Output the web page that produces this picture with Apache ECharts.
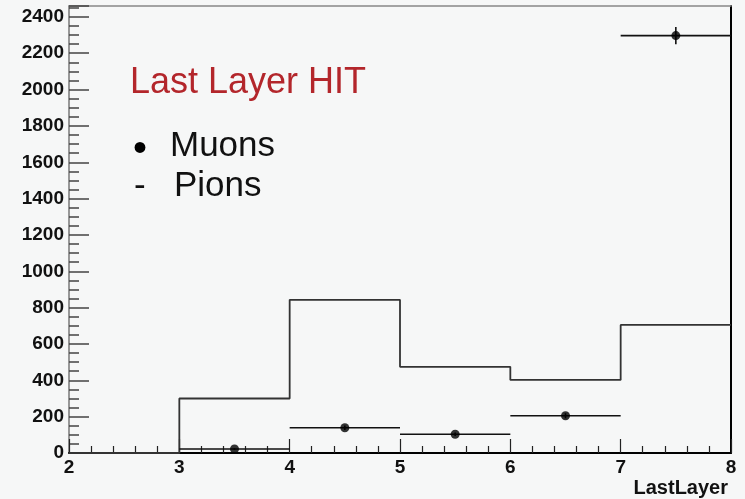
<!DOCTYPE html>
<html>
<head>
<meta charset="utf-8">
<script src="https://cdn.jsdelivr.net/npm/echarts@6/dist/echarts.min.js"></script>
<style>
  html, body { margin: 0; padding: 0; background: #f6f7f7; }
  #chart { width: 745px; height: 499px; }
</style>
</head>
<body>
<div id="chart"></div>
<script>
// Bin edges of the LastLayer histogram
const binEdges = [2, 3, 4, 5, 6, 7, 8];
// Pion counts per bin (step histogram)
const pionCounts = [0, 300, 843, 474, 402, 705];
// Muon counts at bin centres, with their statistical errors
const muonCenters = [3.5, 4.5, 5.5, 6.5, 7.5];
const muonCounts = [22, 139, 103, 205, 2297];
const muonErrors = [5, 12, 10, 14, 48];
const binHalfWidth = 0.5;

const yMax = 2460;

const pionData = binEdges.map((x, i) => [x, pionCounts[Math.min(i, pionCounts.length - 1)]]);
const muonData = muonCenters.map((x, i) => [x, muonCounts[i], muonErrors[i]]);

const chart = echarts.init(document.getElementById('chart'), null, { renderer: 'canvas' });

const labelFont = { fontFamily: 'Liberation Sans, Arial, sans-serif', fontWeight: 'bold', fontSize: 19, color: '#111' };
const textFont = '"Liberation Sans", Arial, sans-serif';

chart.setOption({
  backgroundColor: '#f6f7f7',
  animation: false,
  grid: { left: 69, right: 14, top: 6, bottom: 46, containLabel: false },
  xAxis: [
    {
      type: 'value', min: 2, max: 8, interval: 1,
      axisLine: { show: true, onZero: false, lineStyle: { color: '#000', width: 2 } },
      axisTick: { show: true, inside: true, length: 14, lineStyle: { color: '#222', width: 1.2 } },
      minorTick: { show: true, splitNumber: 5, length: 7, lineStyle: { color: '#222', width: 1.2 } },
      axisLabel: Object.assign({ margin: 5 }, labelFont),
      splitLine: { show: false }
    },
    {
      type: 'value', min: 2, max: 8, position: 'top',
      axisLine: { show: true, onZero: false, lineStyle: { color: '#888', width: 1.5 } },
      axisTick: { show: false }, axisLabel: { show: false }, splitLine: { show: false }
    }
  ],
  yAxis: [
    {
      type: 'value', min: 0, max: yMax, interval: 200,
      axisLine: { show: true, onZero: false, lineStyle: { color: '#777', width: 1.5 } },
      axisTick: { show: true, inside: true, length: 20, lineStyle: { color: '#444', width: 1.5 } },
      axisLabel: Object.assign({
        margin: 5,
        formatter: v => (v % 200 === 0 ? String(v) : '')
      }, labelFont),
      splitLine: { show: false }
    },
    {
      type: 'value', min: 0, max: yMax, interval: 50, position: 'left',
      axisLine: { show: false },
      axisTick: { show: true, inside: true, length: 10, lineStyle: { color: '#444', width: 1.5 } },
      axisLabel: { show: false }, splitLine: { show: false }
    },
    {
      type: 'value', min: 0, max: yMax, position: 'right',
      axisLine: { show: true, onZero: false, lineStyle: { color: '#000', width: 2 } },
      axisTick: { show: false }, axisLabel: { show: false }, splitLine: { show: false }
    }
  ],
  series: [
    {
      name: 'Pions',
      type: 'line',
      step: 'end',
      data: pionData,
      showSymbol: false,
      lineStyle: { color: '#333', width: 1.8 },
      z: 3
    },
    {
      name: 'Muons errors',
      type: 'custom',
      data: muonData,
      renderItem: (params, api) => {
        const x = api.value(0), y = api.value(1), e = api.value(2);
        const l = api.coord([x - binHalfWidth, y]);
        const r = api.coord([x + binHalfWidth, y]);
        const t = api.coord([x, y + e]);
        const b = api.coord([x, y - e]);
        const style = { stroke: '#111', lineWidth: 1.6 };
        return {
          type: 'group',
          children: [
            { type: 'line', shape: { x1: l[0], y1: l[1], x2: r[0], y2: r[1] }, style },
            { type: 'line', shape: { x1: t[0], y1: t[1], x2: b[0], y2: b[1] }, style }
          ]
        };
      },
      z: 4
    },
    {
      name: 'Muons',
      type: 'scatter',
      data: muonData.map(d => [d[0], d[1]]),
      symbol: 'circle',
      symbolSize: 9,
      itemStyle: { color: '#000' },
      z: 5
    }
  ],
  graphic: [
    {
      type: 'text', left: 130, top: 65,
      style: { text: 'Last Layer HIT', fill: '#b3262b', font: '36px ' + textFont }
    },
    {
      type: 'text', left: 133, top: 130,
      style: { text: '\u2022', fill: '#000', font: '40px ' + textFont }
    },
    {
      type: 'text', left: 170, top: 129,
      style: { text: 'Muons', fill: '#111', font: '35px ' + textFont }
    },
    {
      type: 'text', left: 134, top: 169,
      style: { text: '-', fill: '#111', font: '35px ' + textFont }
    },
    {
      type: 'text', left: 174, top: 169,
      style: { text: 'Pions', fill: '#111', font: '35px ' + textFont }
    },
    {
      type: 'text', right: 17, top: 478,
      style: { text: 'LastLayer', fill: '#111', font: 'bold 20px ' + textFont }
    }
  ]
});
</script>
</body>
</html>
